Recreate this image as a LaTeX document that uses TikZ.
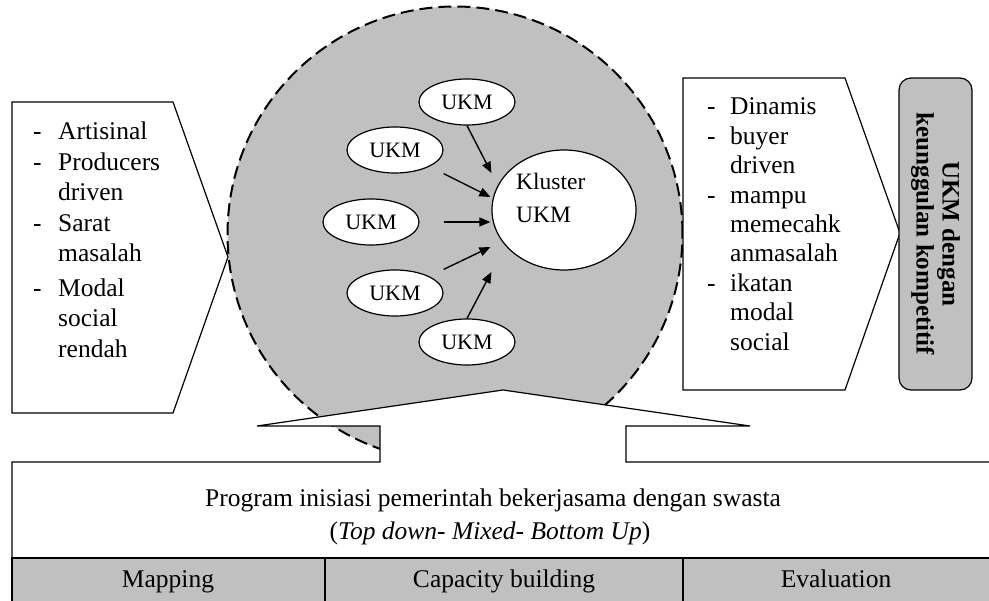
\documentclass[tikz,border=0pt]{standalone}
\usepackage{fontspec}
\setmainfont{Liberation Serif}
\usetikzlibrary{arrows.meta,calc,shapes.geometric}
\definecolor{shade}{HTML}{C0C0C0}
\begin{document}
\begin{tikzpicture}[x=1pt,y=-1pt,
  box/.style={draw=black, line width=1.2pt, fill=white},
  ukm/.style={ellipse, draw=black, line width=1.2pt, fill=white, minimum width=96pt, minimum height=46pt, inner sep=0pt, font=\fontsize{22}{24}\selectfont},
  arr/.style={line width=1.4pt, -{Triangle[length=11pt,width=9pt]}},
  txt/.style={font=\fontsize{25.5}{30.5}\selectfont, inner sep=0pt},
  rtxt/.style={font=\fontsize{25.5}{29.4}\selectfont, inner sep=0pt},
  ]
\useasboundingbox (0,0) rectangle (989,601);
\fill[white] (0,0) rectangle (989,601);

% big dashed circle
\node[circle, minimum size=455pt, inner sep=0pt, fill=shade, draw=black, line width=2pt, dash pattern=on 13pt off 6pt] (big) at (455,234) {};

% left callout
\draw[box] (12,102) -- (173,102) -- (228,257) -- (173,413) -- (12,413) -- cycle;
\node[txt, anchor=base west] (ltext) at (33,140) {\begin{tabular}[t]{@{}p{25pt}@{}l@{}}
-&Artisinal\\ -&Producers\\ &driven\\ -&Sarat\\ &masalah\\[4pt] -&Modal\\ &social\\ &rendah\end{tabular}};

% right callout
\draw[box] (683,78) -- (845,78) -- (900,233) -- (845,390) -- (683,390) -- cycle;
\node[rtxt, anchor=base west] (rtext) at (707,115) {\begin{tabular}[t]{@{}p{23pt}@{}l@{}}
-&Dinamis\\ -&buyer\\ &driven\\ -&mampu\\ &memecahk\\ &anmasalah\\ -&ikatan\\ &modal\\ &social\end{tabular}};

% result box
\node[rotate=-90, draw=black, line width=1.2pt, fill=shade, rounded corners=12pt, minimum width=312pt, minimum height=73pt, inner sep=0pt, align=center, font=\fontsize{25}{26}\selectfont\bfseries] (res) at (935.5,234) {UKM dengan\\keunggulan kompetitif};

% bottom callout
\draw[box] (12,615) -- (12,462) -- (380,462) -- (380,426) -- (257,426) -- (503,390) -- (750,426) -- (626,426) -- (626,462) -- (1005,462) -- (1005,615) -- cycle;
\draw[line width=1.2pt, fill=shade] (12,558) rectangle (1005,615);
\draw[line width=1.2pt] (325,558) -- (325,615) (683,558) -- (683,615);
\node[txt, anchor=base] (prog) at (493,507) {Program inisiasi pemerintah bekerjasama dengan swasta};
\node[txt, anchor=base] (mode) at (490,540) {(\textit{Top down- Mixed- Bottom Up})};
\node[txt, anchor=base] (map) at (168,587) {Mapping};
\node[txt, anchor=base] (cap) at (504,587) {Capacity building};
\node[txt, anchor=base] (eva) at (836,587) {Evaluation};

% cluster
\node[ellipse, draw=black, line width=1.2pt, fill=white, minimum width=144pt, minimum height=120pt, inner sep=0pt] (k) at (564,210) {};
\node[font=\fontsize{23.5}{33}\selectfont, inner sep=0pt, anchor=base west] (kt) at (516,190) {\begin{tabular}[t]{@{}l@{}}Kluster\\UKM\end{tabular}};

\node[ukm] (u1) at (467,102) {UKM};
\node[ukm] (u2) at (395,150) {UKM};
\node[ukm] (u3) at (371,222) {UKM};
\node[ukm] (u4) at (395,293) {UKM};
\node[ukm] (u5) at (467,342) {UKM};

\draw[arr] (u1.south) -- ($(k.west)+(0,-37)$);
\draw[arr] (u2.east |- u2.south) -- ($(k.west)+(-1,-13)$);
\draw[arr] ($(u3.east)+(24,0)$) -- ($(k.west)+(-1,12)$);
\draw[arr] (u4.east |- u4.north) -- ($(k.west)+(-1,37)$);
\draw[arr] (u5.north) -- ($(k.west)+(0,62)$);
\end{tikzpicture}
\end{document}
